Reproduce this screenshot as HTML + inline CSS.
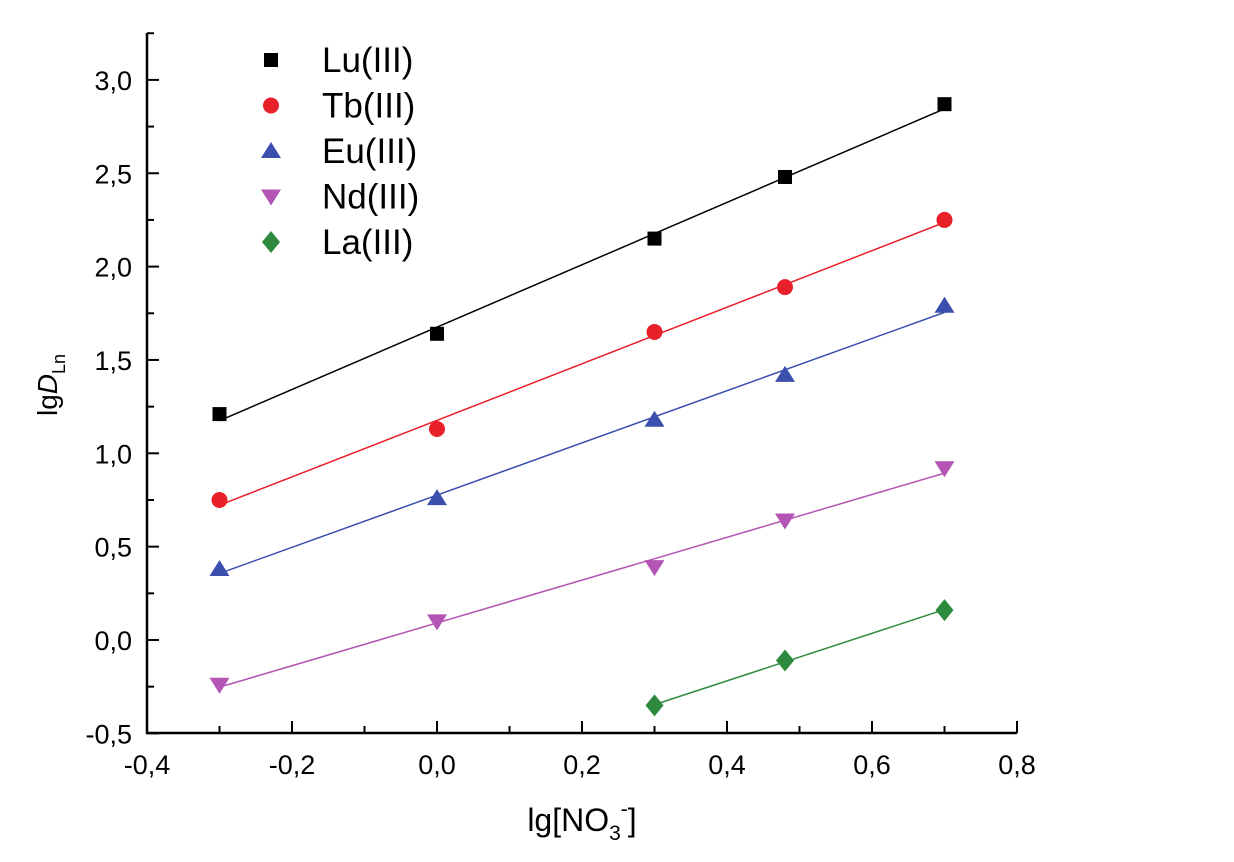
<!DOCTYPE html>
<html><head><meta charset="utf-8"><style>
body{margin:0;background:#fff;}
svg{display:block;font-family:"Liberation Sans",sans-serif;}
</style></head><body>
<svg id="chart" width="1234" height="862" viewBox="0 0 1234 862">
<g id="axes"></g>
<g id="series"></g>
<g id="legend"></g>
<text x="582" y="831" font-size="32" text-anchor="middle">lg[NO<tspan font-size="21" dy="9">3</tspan><tspan font-size="21" dy="-24">-</tspan><tspan dy="15">]</tspan></text>
<text transform="translate(57,385) rotate(-90)" font-size="28" text-anchor="middle">lg<tspan font-style="italic">D</tspan><tspan font-size="18" dy="8">Ln</tspan></text>
</svg>
<script>
const xVals=[-0.3,0,0.3,0.48,0.7];
const luVals=[1.21,1.64,2.15,2.48,2.87];
const tbVals=[0.75,1.13,1.65,1.89,2.25];
const euVals=[0.38,0.76,1.18,1.42,1.79];
const ndVals=[-0.24,0.10,0.39,0.64,0.92];
const laX=[0.3,0.48,0.7];
const laVals=[-0.35,-0.11,0.16];
const xTicks=["-0,4","-0,2","0,0","0,2","0,4","0,6","0,8"];
const yTicks=["-0,5","0,0","0,5","1,0","1,5","2,0","2,5","3,0"];
const seriesNames=["Lu(III)","Tb(III)","Eu(III)","Nd(III)","La(III)"];

const NS="http://www.w3.org/2000/svg";
const X0=147,X1=1017,Y0=733;
function xs(v){return X0+(v+0.4)/1.2*(X1-X0);}
function ys(v){return 640-v*186.7;}
function mk(tag,attrs,parent){const e=document.createElementNS(NS,tag);for(const k in attrs)e.setAttribute(k,attrs[k]);parent.appendChild(e);return e;}
const axes=document.getElementById('axes'),ser=document.getElementById('series'),leg=document.getElementById('legend');
let a=mk('path',{d:`M${X0},33 L${X0},${Y0} L${X1},${Y0}`,fill:'none',stroke:'#000','stroke-width':2.5},axes);


for(let i=0;i<=12;i++){const v=-0.4+i*0.1;const x=xs(v);const L=i%2==0?12:7;
 let t=mk('line',{x1:x,y1:Y0,x2:x,y2:Y0-L,stroke:'#000','stroke-width':2},axes);
 
 }
xTicks.forEach((s,i)=>{let t=mk('text',{x:xs(-0.4+i*0.2),y:Y0+41,'font-size':27,'text-anchor':'middle'},axes);t.textContent=s;
 
 });
for(let i=0;i<=15;i++){const v=-0.5+i*0.25;const y=ys(v);if(y<33)break;const L=i%2==0?12:7;
 let t=mk('line',{x1:X0,y1:y,x2:X0+L,y2:y,stroke:'#000','stroke-width':2},axes);
 
 }
yTicks.forEach((s,i)=>{let t=mk('text',{x:X0-15,y:ys(-0.5+i*0.5)+10,'font-size':27,'text-anchor':'end'},axes);t.textContent=s;
 
 });
function fit(xa,ya){const n=xa.length;let mx=0,my=0;for(let i=0;i<n;i++){mx+=xa[i];my+=ya[i];}mx/=n;my/=n;let sxy=0,sxx=0;for(let i=0;i<n;i++){sxy+=(xa[i]-mx)*(ya[i]-my);sxx+=(xa[i]-mx)**2;}const b=sxy/sxx;return [b,my-b*mx];}
function marker(type,x,y,col,g){const s=9;let e;
 if(type=='sq')e=mk('rect',{x:x-7,y:y-7,width:14,height:14,fill:col},g);
 else if(type=='ci')e=mk('circle',{cx:x,cy:y,r:8,fill:col},g);
 else if(type=='up')e=mk('polygon',{points:`${x},${y-s} ${x-s-1},${y+7} ${x+s+1},${y+7}`,fill:col},g);
 else if(type=='dn')e=mk('polygon',{points:`${x},${y+s} ${x-s-1},${y-7} ${x+s+1},${y-7}`,fill:col},g);
 else e=mk('polygon',{points:`${x},${y-11} ${x+9},${y} ${x},${y+11} ${x-9},${y}`,fill:col},g);
 return e;}
const defs=[[xVals,luVals,'#000','sq','lu'],[xVals,tbVals,'#e8202a','ci','tb'],[xVals,euVals,'#3b4fae','up','eu'],[xVals,ndVals,'#b454b4','dn','nd'],[laX,laVals,'#2e8a3e','di','la']];
defs.forEach((d,k)=>{const [xa,ya,col,type,nm]=d;const [b,c]=fit(xa,ya);const g=mk('g',{},ser);
 
 
 const xa0=xa[0],xa1=xa[xa.length-1];
 let l=mk('line',{x1:xs(xa0),y1:ys(b*xa0+c),x2:xs(xa1),y2:ys(b*xa1+c),stroke:col,'stroke-width':1.5},g);
 
 
 xa.forEach((x,i)=>{let m=marker(type,xs(x),ys(ya[i]),col,g);
  
  });
 const ly=60+k*45.5;let lm=marker(type,271,ly,col,leg);
 
 
 let lt=mk('text',{x:322,y:ly+12,'font-size':35},leg);lt.textContent=seriesNames[k];
 
 });
</script>
</body></html>
